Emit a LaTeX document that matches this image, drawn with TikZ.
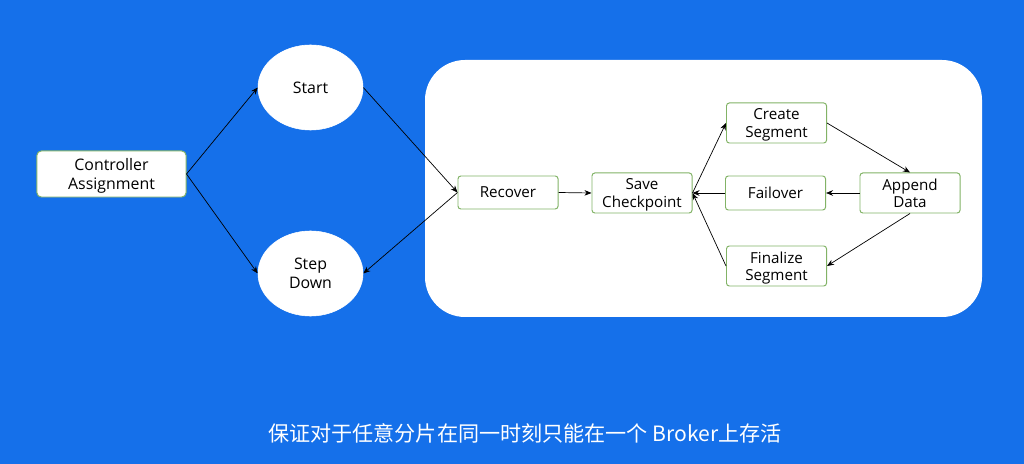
\documentclass[tikz,border=0pt]{standalone}
\usepackage{fontspec}
\setmainfont{Open Sans}
\newfontfamily\cjk{Noto Sans CJK SC}
\usetikzlibrary{shapes.geometric,arrows.meta}
\definecolor{bgblue}{HTML}{1570EA}
\definecolor{boxgreen}{HTML}{82B366}
\tikzset{
    stepbox/.style={draw=boxgreen, line width=0.7pt, fill=white, rounded corners=2pt, align=center,
        inner sep=0pt, minimum width=2.5cm, minimum height=1cm, text depth=0pt,
        font=\fontsize{10.8}{12.3}\selectfont},
    statenode/.style={ellipse, draw=white, fill=white, align=center, inner sep=0pt,
        minimum width=2.625cm, minimum height=2.125cm, font=\fontsize{11.3}{13.5}\selectfont},
    flow/.style={-{Stealth[length=5pt,width=4pt]}, black, line width=0.5pt}
}
\begin{document}
\begin{tikzpicture}[x=0.025cm, y=-0.025cm]
            % background and panel
            \fill[bgblue] (0,0) rectangle (1024,464);
            \useasboundingbox (0,0) rectangle (1024,464);
            \fill[white, rounded corners=1cm] (425,60) rectangle (982,317);
            % left part
            \node[stepbox, minimum width=3.725cm, minimum height=1.15cm, rounded corners=3pt,
                font=\fontsize{11.3}{13.5}\selectfont] (ctrl) at (111.5,174) {Controller\\Assignment};
            \node[statenode] (start) at (310.5,87.5) {Start};
            \node[statenode] (down) at (310.5,273.5) {Step\\Down};
            % state machine inside the panel
            \node[stepbox, minimum height=0.825cm] (recover) at (508,192.5) {Recover};
            \node[stepbox] (save) at (642,193) {Save\\Checkpoint};
            \node[stepbox] (create) at (776.5,123) {Create\\Segment};
            \node[stepbox, minimum height=0.85cm] (failover) at (775.5,193) {Failover};
            \node[stepbox] (append) at (910,193) {Append\\Data};
            \node[stepbox] (final) at (776.5,266) {Finalize\\Segment};
            % connectors
            \draw[flow] (ctrl.east) -- (start.west);
            \draw[flow] (ctrl.east) -- (down.west);
            \draw[flow] (start.east) -- (recover.west);
            \draw[flow] (recover.west) -- (down.east);
            \draw[flow] (recover.east) -- (save.west);
            \draw[flow] (save.east) -- (create.west);
            \draw[flow] (create.east) -- (append.north);
            \draw[flow] (append.west) -- (failover.east);
            \draw[flow] (failover.west) -- (save.east);
            \draw[flow] (append.south) -- (final.east);
            \draw[flow] (final.west) -- (save.east);
            % caption
            \node[text=white, font=\cjk\fontsize{15}{18}\selectfont] (caption) at (525,433) {保证对于任意分片在同一时刻只能在一个 Broker上存活};
        \end{tikzpicture}
\end{document}
